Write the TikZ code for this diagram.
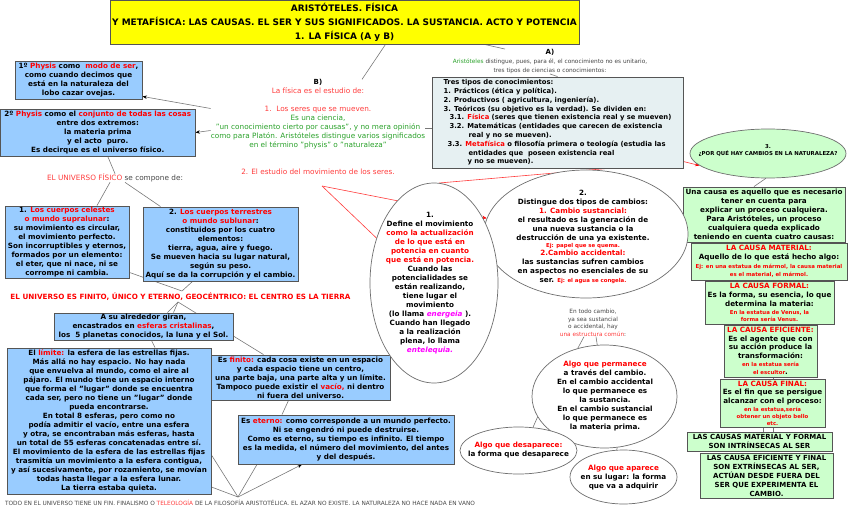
\documentclass[tikz,border=0pt]{standalone}
\usepackage{fontspec}
\setmainfont{DejaVu Sans}
\usetikzlibrary{shapes.geometric,arrows.meta}
\pgfdeclarelayer{bg}
\pgfsetlayers{bg,main}
\definecolor{bluebox}{RGB}{153,204,255}
\definecolor{greenbox}{RGB}{204,255,204}
\definecolor{tresfill}{RGB}{230,240,242}
\definecolor{bord}{RGB}{85,85,85}
\definecolor{ellgray}{RGB}{110,110,110}
\definecolor{lgray}{RGB}{120,120,120}
\definecolor{tred}{RGB}{255,0,0}
\definecolor{lred}{RGB}{255,60,60}
\definecolor{tgreen}{RGB}{40,160,40}
\definecolor{tmag}{RGB}{255,0,255}
\definecolor{tgray}{RGB}{70,70,70}
\definecolor{tyellow}{RGB}{255,255,0}
\newcommand\FB{\fontsize{7.2}{9}\selectfont\bfseries}
\newcommand\FBS{\fontsize{5.4}{7}\selectfont\bfseries}
\newcommand\FR{\fontsize{7.3}{9}\selectfont}
\newcommand\FS{\fontsize{5.8}{9}\selectfont}
\newcommand\FT{\fontsize{8.95}{14}\selectfont\bfseries}
\newcommand\rd[1]{\textcolor{tred}{#1}}
\newcommand\lr[1]{\textcolor{lred}{#1}}
\newcommand\gr[1]{\textcolor{tgreen}{#1}}
\newcommand\mg[1]{\textcolor{tmag}{#1}}
\begin{document}
\begin{tikzpicture}[x=1pt,y=-1pt,
  bx/.style={draw=bord, line width=0.9pt, fill=bluebox, inner sep=0pt, align=center, font=\FB},
  gbx/.style={bx, fill=greenbox},
  ell/.style={ellipse, draw=ellgray, line width=0.7pt, fill=white, inner sep=0pt},
  txt/.style={inner sep=0pt, align=center},
  ln/.style={draw=lgray, line width=0.6pt},
  arr/.style={ln, -{Stealth[length=4.5pt,width=3.5pt,color=black]}},
  rln/.style={draw=lred, line width=0.6pt},
  rarr/.style={rln, -{Stealth[length=4.5pt,width=3.5pt,color=tred]}}]
\useasboundingbox (0,0) rectangle (848,508);

% title
\node[bx, fill=tyellow, font=\FT, minimum width=469pt, minimum height=43.5pt] (title) at (344.5,22.25)
 {ARISTÓTELES. FÍSICA\\Y METAFÍSICA: LAS CAUSAS. EL SER Y SUS SIGNIFICADOS. LA SUSTANCIA. ACTO Y POTENCIA\\1. LA FÍSICA (A y B)};

% B text
\node[txt, font=\FR] (btop) at (318,114.5)
 {{\bfseries\fontsize{7}{9}\selectfont B)}\\\lr{La física es el estudio de:}\\[9pt]\lr{1.\ \ Los seres que se mueven.}\\\gr{Es una ciencia,}\\\gr{"un conocimiento cierto por causas", y no mera opinión}\\\gr{como para Platón. Aristóteles distingue varios significados}\\\gr{en el término "physis" o "naturaleza"}};
\node[txt, font=\FR] (bstudy) at (318,172) {\lr{2. El estudio del movimiento de los seres.}};

% left blue boxes
\node[bx, minimum width=127pt, minimum height=38pt] (p1) at (78.5,80)
 {1º \rd{Physis} como \ \rd{modo de ser},\\como cuando decimos que\\está en la naturaleza del\\lobo cazar ovejas.};
\node[bx, minimum width=194.5pt, minimum height=47pt] (p2) at (97.75,132.5)
 {2º \rd{Physis} como el \rd{conjunto de todas las cosas}\\entre dos extremos:\\la materia prima\\y el acto \ puro.\\Es decirque es el universo físico.};
\node[txt, font=\FR] (univ) at (115,178) {\lr{EL UNIVERSO FÍSICO} \textcolor{tgray}{se compone de:}};
\node[bx, minimum width=124pt, minimum height=72pt] (c1) at (67,242)
 {1. \rd{Los cuerpos celestes}\\\rd{o mundo supralunar}:\\su movimiento es circular,\\el movimiento perfecto.\\Son incorruptibles y eternos,\\formados por un elemento:\\el eter, que ni nace, ni se\\corrompe ni cambia.};
\node[bx, minimum width=155pt, minimum height=74pt] (c2) at (220.5,244)
 {2. \rd{Los cuerpos terrestres}\\\rd{o mundo sublunar}:\\constituidos por los cuatro\\elementos:\\tierra, agua, aire y fuego.\\Se mueven hacia su lugar natural,\\según su peso.\\Aquí se da la corrupción y el cambio.};
\node[txt, font=\FB, text=tred] (finito) at (180.5,297)
 {EL UNIVERSO ES FINITO, ÚNICO Y ETERNO, GEOCÉNTRICO: EL CENTRO ES LA TIERRA};
\node[bx, minimum width=179pt, minimum height=27pt] (alr) at (143.5,326.5)
 {A su alrededor giran,\\encastrados en \rd{esferas cristalinas},\\los \ 5 planetas conocidos, la luna y el Sol.};
\node[bx, minimum width=204pt, minimum height=146pt] (lim) at (109,421)
 {El \rd{límite:} la esfera de las estrellas fijas.\\Más allá no hay espacio. No hay nada\\que envuelva al mundo, como el aire al\\pájaro. El mundo tiene un espacio interno\\que forma el "lugar" donde se encuentra\\cada ser, pero no tiene un "lugar" donde\\pueda encontrarse.\\En total 8 esferas, pero como no\\podía admitir el vacío, entre una esfera\\y otra, se encontraban más esferas, hasta\\un total de 55 esferas concatenadas entre sí.\\El movimiento de la esfera de las estrellas fijas\\trasmitía un movimiento a la esfera contigua,\\y así sucesivamente, por rozamiento, se movían\\todas hasta llegar a la esfera lunar.\\La tierra estaba quieta.};
\node[bx, minimum width=179pt, minimum height=45pt] (fin) at (300.5,377.5)
 {Es \rd{finito:} cada cosa existe en un espacio\\y cada espacio tiene un centro,\\una parte baja, una parte alta y un límite.\\Tampoco puede existir el \rd{vacío,} ni dentro\\ni fuera del universo.};
\node[bx, minimum width=216pt, minimum height=49pt] (ete) at (346,439.5)
 {Es \rd{eterno:} como corresponde a un mundo perfecto.\\Ni se engendró ni puede destruirse.\\Como es eterno, su tiempo es infinito. El tiempo\\es la medida, el número del movimiento, del antes\\y del después.};
\node[txt, font=\FS, text=tgray] (foot) at (240,503)
 {TODO EN EL UNIVERSO TIENE UN FIN. FINALISMO O \lr{TELEOLOGÍA} DE LA FILOSOFÍA ARISTOTÉLICA. EL AZAR NO EXISTE. LA NATURALEZA NO HACE NADA EN VANO};

% A text and tres box
\node[txt, font=\FS, text=tgray] (atext) at (550,61.5)
 {{\bfseries\fontsize{7}{9}\selectfont\color{black}A)}\\\gr{Aristóteles} distingue, pues, para él, el conocimiento no es unitario,\\tres tipos de ciencias o conocimientos:};
\node[bx, fill=tresfill, align=left, font=\fontsize{6.8}{8.8}\selectfont\bfseries, minimum width=251pt, minimum height=91pt] (tres) at (557.5,122.5)
 {Tres tipos de conocimientos:\\
  1. Prácticos (ética y política).\\
  2. Productivos ( agricultura, ingeniería).\\
  3. Teóricos (su objetivo es la verdad). Se dividen en:\\
  \hspace*{6pt}3.1. \rd{Física} (seres que tienen existencia real y se mueven)\\
  \hspace*{6pt}3.2. Matemáticas (entidades que carecen de existencia\\
  \hspace*{25pt}real y no se mueven).\\
  \hspace*{4pt}3.3. \rd{Metafísica} o filosofía primera o teología (estudia las\\
  \hspace*{25pt}entidades que \ poseen existencia real\\
  \hspace*{24pt}y no se mueven).};

% right column
\node[ell, fill=greenbox, minimum width=156pt, minimum height=49pt] (q3) at (768,153.5) {};
\node[txt, font=\fontsize{5.4}{7.5}\selectfont\bfseries] (q3t) at (768,150.5) {3.\\¿POR QUÉ HAY CAMBIOS EN LA NATURALEZA?};
\node[gbx, minimum width=162pt, minimum height=55pt] (causa) at (764,214.5)
 {Una causa es aquello que es necesario\\tener en cuenta para\\explicar un proceso cualquiera.\\Para Aristóteles, un proceso\\cualquiera queda explicado\\teniendo en cuenta cuatro causas:};
\node[gbx, minimum width=156pt, minimum height=37pt] (mat) at (769,261.5)
 {\rd{LA CAUSA MATERIAL:}\\Aquello de lo que está hecho algo:\\{\FBS\rd{Ej: en una estatua de mármol, la causa material}}\\[-1pt]{\FBS\rd{es el material, el mármol.}}};
\node[gbx, minimum width=129pt, minimum height=43pt] (frm) at (769.5,302.5)
 {\rd{LA CAUSA FORMAL:}\\Es la forma, su esencia, lo que\\determina la materia:\\[-1pt]{\FBS\rd{En la estatua de Venus, la}}\\[-2pt]{\FBS\rd{forma sería Venus.}}};
\node[gbx, minimum width=93pt, minimum height=52pt] (efi) at (770.5,351)
 {\rd{LA CAUSA EFICIENTE:}\\[-0.5pt]Es el agente que con\\[-0.5pt]su acción produce la\\[-0.5pt]transformación:\\[-1pt]{\FBS\rd{en la estatua sería}}\\[-1pt]{\FBS\rd{el escultor}}.};
\node[gbx, minimum width=105pt, minimum height=48pt] (fnl) at (772.5,403)
 {\rd{LA CAUSA FINAL:}\\[-0.5pt]Es el fin que se persigue\\[-0.5pt]alcanzar con el proceso:\\[-1pt]{\FBS\rd{en la estatua,sería}}\\[-2pt]{\FBS\rd{obtener un objeto bello}}\\[-2pt]{\FBS\rd{etc.}}};
\node[gbx, minimum width=145pt, minimum height=19pt, font=\fontsize{7}{8.5}\selectfont\bfseries] (intr) at (759.5,441.5)
 {LAS CAUSAS MATERIAL Y FORMAL\\SON INTRÍNSECAS AL SER};
\node[gbx, minimum width=133pt, minimum height=45pt, font=\fontsize{7}{9}\selectfont\bfseries] (extr) at (766.5,475.5)
 {LAS CAUSA EFICIENTE Y FINAL\\SON EXTRÍNSECAS AL SER,\\ACTÚAN DESDE FUERA DEL\\SER QUE EXPERIMENTA EL\\CAMBIO.};

% central ellipses
\node[ell, minimum width=204pt, minimum height=128pt] (e2) at (586,234) {};
\node[txt, font=\FB] (e2t) at (583,237)
 {2.\\Distingue dos tipos de cambios:\\\rd{1. Cambio sustancial:}\\el resultado es la generación de\\una nueva sustancia o la\\destrucción de una ya existente.\\[-1.5pt]{\FBS\rd{Ej: papel que se quema.}}\\[-1pt]\rd{2.Cambio accidental:}\\las sustancias sufren cambios\\en aspectos no esenciales de su\\ser. {\FBS\rd{Ej: el agua se congela.}}};
\node[ell, minimum width=128pt, minimum height=200pt] (e1) at (434,283) {};
\node[txt, font=\FB] (e1t) at (430,283)
 {1.\\Define el movimiento\\\rd{como la actualización}\\\rd{de lo que está en}\\\rd{potencia en cuanto}\\\rd{que está en potencia.}\\Cuando las\\potencialidades se\\están realizando,\\tiene lugar el\\movimiento\\(lo llama \mg{\itshape energeia} ).\\Cuando han llegado\\a la realización\\plena, lo llama\\\mg{\itshape entelequia.}};
\node[txt, font=\fontsize{5.8}{7.5}\selectfont, text=tgray] (ent) at (593,323)
 {En todo cambio,\\ya sea sustancial\\o accidental, hay\\\lr{una estructura común}:};
\node[ell, minimum width=145pt, minimum height=103pt] (e4) at (604.5,396.5) {};
\node[txt, font=\FB] (e4t) at (605,396)
 {\rd{Algo que permanece}\\a través del cambio.\\En el cambio accidental\\lo que permanece es\\la sustancia.\\En el cambio sustancial\\lo que permanece es\\la materia prima.};
\node[ell, minimum width=117pt, minimum height=47pt] (e5) at (518.5,450.5) {};
\node[txt, font=\FB] (e5t) at (518.5,450.5) {\rd{Algo que desaparece:}\\la forma que desaparece};
\node[ell, minimum width=107pt, minimum height=54pt] (e6) at (623.5,477) {};
\node[txt, font=\FB] (e6t) at (623.5,478) {\rd{Algo que aparece}\\en su lugar: la forma\\que va a adquirir};

% connectors
\begin{pgfonlayer}{bg}
\draw[ln] ([xshift=41pt]title.south) -- ([xshift=44pt]btop.north);
\draw[ln] ([xshift=140pt]title.south) -- ([xshift=-45pt]atext.north);
\draw[arr] ([yshift=6pt]btop.west) -- ([yshift=3pt]p1.south east);
\draw[arr] ([yshift=-16pt]btop.west) -- (p2.east);
\draw[ln] ([yshift=-13.5pt]btop.east) -- ([yshift=-13.5pt]btop.east -| tres.west);
\draw[ln] (atext.south) -- (tres.north);
\draw[rarr] ([yshift=-39pt]tres.east) -- (q3.190);
\draw[ln] (q3.265) -- ([xshift=-10pt]causa.north);
\draw[ln] ([xshift=10pt]p2.south) -- (univ.north);
\draw[ln] ([xshift=-5pt]univ.south) -- ([xshift=30pt]c1.north);
\draw[ln] ([xshift=10pt]univ.south) -- ([xshift=-60pt]c2.north);
\coordinate (h1) at (182,291);
\draw[ln] ([yshift=6pt]c1.south east) -- (h1);
\draw[ln] ([xshift=-28pt]c2.south) -- (h1);
\coordinate (h2) at (178,302);
\draw[ln] (h2) -- ([xshift=24pt]alr.north);
\draw[ln] (h2) -- ([xshift=30pt]alr.north);
\draw[ln] (h2) -- ([xshift=-37pt]fin.north);
\draw[ln] ([xshift=8pt]alr.south) -- ([xshift=46pt]lim.north);
\draw[ln] ([xshift=-12pt]fin.south) -- ([xshift=-64pt]ete.north);
\coordinate (h3) at (238,497);
\draw[ln] ([yshift=-34pt]lim.east) -- (h3);
\draw[ln] ([yshift=-66pt]lim.east) -- (h3);
\draw[ln] (h3) -- ([xshift=-89pt]ete.south);
\draw[arr] (h3) -- ([xshift=-44pt]ete.south);
\coordinate (rs) at (322,186);
\draw[rarr] (rs) -- (e2.171);
\draw[rln] (rs) -- (e1.142);
\draw[rln] ([xshift=50pt]tres.south) -- (e1.87);
\draw[ln] ([xshift=-9pt]ent.south) -- (e4.119);
\draw[ln] ([xshift=3pt]ent.south) -- (e4.98);
\draw[ln] (e4.197) -- (e5.58);
\draw[ln] (e4.284) -- (e6.104);
\draw[ln] ([xshift=-9pt]fnl.south) -- ([xshift=4pt]intr.north);
\draw[ln] ([xshift=1pt]fnl.south) -- ([xshift=14pt]intr.north);
\draw[ln] ([xshift=3pt]efi.south) -- ([xshift=1pt]fnl.north);
\draw[ln] ([xshift=10pt]mat.north) -- ([xshift=15pt]causa.south);
\end{pgfonlayer}
\end{tikzpicture}
\end{document}
